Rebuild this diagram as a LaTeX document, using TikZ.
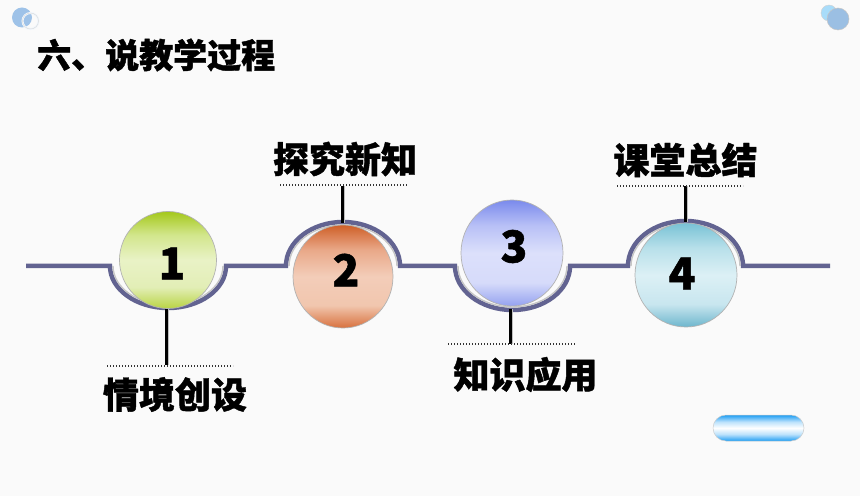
\documentclass[tikz,border=0pt]{standalone}
\usepackage{fontspec}
\setmainfont{Noto Sans CJK SC}[BoldFeatures={FakeBold=1.2}]
\usetikzlibrary{shapes.geometric}
\definecolor{bg}{HTML}{FAFAFA}
\definecolor{slate}{RGB}{98,99,145}
\definecolor{decoA}{HTML}{9EC2E8}
\definecolor{decoB}{HTML}{A8DCFA}
\definecolor{decoC}{HTML}{9BBFE3}
% ball 1 (green)
\definecolor{aTop}{HTML}{A4C81A}\definecolor{aUp}{HTML}{D2E68C}\definecolor{aMid}{HTML}{E9F2C6}\definecolor{aLow}{HTML}{E2EEB6}\definecolor{aBot}{HTML}{B9D444}
% ball 2 (orange)
\definecolor{bTop}{HTML}{CF5F28}\definecolor{bUp}{HTML}{E9A888}\definecolor{bMid}{HTML}{F3CDB9}\definecolor{bLow}{HTML}{F1C6AE}\definecolor{bBot}{HTML}{D8713E}
% ball 3 (blue)
\definecolor{cTop}{HTML}{7A8AEC}\definecolor{cUp}{HTML}{B8C0F6}\definecolor{cMid}{HTML}{DCE0FB}\definecolor{cLow}{HTML}{D6DBFA}\definecolor{cBot}{HTML}{95A2F0}
% ball 4 (teal)
\definecolor{dTop}{HTML}{78C2D5}\definecolor{dUp}{HTML}{B8E0EA}\definecolor{dMid}{HTML}{DCF0F5}\definecolor{dLow}{HTML}{C8E6EF}\definecolor{dBot}{HTML}{6DB6CD}
% pill
\definecolor{pBlue}{HTML}{1E9EF4}
\pgfdeclareverticalshading{shA}{100bp}{color(0bp)=(aBot); color(25bp)=(aBot); color(36bp)=(aLow); color(50bp)=(aMid); color(63bp)=(aUp); color(75bp)=(aTop); color(100bp)=(aTop)}
\pgfdeclareverticalshading{shB}{100bp}{color(0bp)=(bBot); color(25bp)=(bBot); color(36bp)=(bLow); color(50bp)=(bMid); color(63bp)=(bUp); color(75bp)=(bTop); color(100bp)=(bTop)}
\pgfdeclareverticalshading{shC}{100bp}{color(0bp)=(cBot); color(25bp)=(cBot); color(36bp)=(cLow); color(50bp)=(cMid); color(63bp)=(cUp); color(75bp)=(cTop); color(100bp)=(cTop)}
\pgfdeclareverticalshading{shD}{100bp}{color(0bp)=(dBot); color(25bp)=(dBot); color(36bp)=(dLow); color(50bp)=(dMid); color(63bp)=(dUp); color(75bp)=(dTop); color(100bp)=(dTop)}
\pgfdeclareverticalshading{shP}{100bp}{color(0bp)=(pBlue); color(25bp)=(pBlue); color(38bp)=(pBlue!30); color(50bp)=(white); color(62bp)=(pBlue!30); color(75bp)=(pBlue); color(100bp)=(pBlue)}
\tikzset{
  ball/.style={ellipse, inner sep=0pt, draw=gray!60, line width=0.7pt},
  digit/.style={inner sep=0pt, font=\fontsize{44}{44}\selectfont\bfseries},
  lbl/.style={inner sep=0pt, font=\fontsize{36}{36}\selectfont\bfseries},
  ttl/.style={inner sep=0pt, anchor=west, font=\fontsize{34}{34}\selectfont\bfseries},
  track/.style={draw=slate, line width=4.5pt},
  inner/.style={draw=gray!45, line width=1.4pt},
  conn/.style={draw=black, line width=3pt},
  connshadow/.style={draw=gray!50, line width=1.5pt},
  dots/.style={draw=black!80, line width=1.2pt, dash pattern=on 1pt off 2pt},
}
\begin{document}
\begin{tikzpicture}[x=1pt,y=1pt]
\fill[bg] (0,0) rectangle (860,496);
\useasboundingbox (0,0) rectangle (860,496);

% decorations
\node[circle, inner sep=0pt, minimum size=20pt, fill=decoA] (tl1) at (22,478.5) {};
\node[circle, inner sep=0pt, minimum size=16pt, draw=white!85!decoA, line width=2pt] (tl2) at (30.5,475) {};
\node[circle, inner sep=0pt, minimum size=16pt, draw=gray!30, line width=0.4pt] (tl3) at (30.5,475) {};
\node[circle, inner sep=0pt, minimum size=16pt, fill=decoB, draw=gray!35, line width=0.4pt] (tr1) at (829,483) {};
\node[circle, inner sep=0pt, minimum size=22pt, fill=decoC, draw=gray!45, line width=0.5pt] (tr2) at (838,477) {};
\node[inner sep=0pt, minimum width=91pt, minimum height=26pt, rounded corners=13pt, shading=shP, draw=gray!40, line width=0.5pt] (pill) at (758.5,68) {};

% title
\node[ttl] (title) at (37,441) {六、说教学过程};

% track
\path[track] (26,230) -- (110,230) arc[start angle=180, end angle=360, x radius=58, y radius=42]
  -- (286,230) arc[start angle=180, end angle=0, x radius=57, y radius=44]
  -- (455,230) arc[start angle=180, end angle=360, x radius=57.5, y radius=44]
  -- (628,230) arc[start angle=180, end angle=0, x radius=57.5, y radius=45]
  -- (830,230);
\path[inner] (113,230) arc[start angle=180, end angle=360, x radius=55, y radius=39];
\path[inner] (289,230) arc[start angle=180, end angle=0, x radius=54, y radius=41];
\path[inner] (458,230) arc[start angle=180, end angle=360, x radius=54.5, y radius=41];
\path[inner] (631,230) arc[start angle=180, end angle=0, x radius=54.5, y radius=42];

% balls
\node[ball, minimum width=97pt, minimum height=97pt, shading=shA] (b1) at (168,236) {};
\node[ball, minimum width=100pt, minimum height=103pt, shading=shB] (b2) at (343,219.5) {};
\node[ball, minimum width=102pt, minimum height=106pt, shading=shC] (b3) at (512,243) {};
\node[ball, minimum width=102pt, minimum height=104pt, shading=shD] (b4) at (686,221) {};

\node[digit] (n1) at (172,232.5) {1};
\node[digit] (n2) at (346,226) {2};
\node[digit] (n3) at (514,249.5) {3};
\node[digit] (n4) at (682,222.5) {4};

% connectors and dotted rules
\coordinate (c1a) at (166,187); \coordinate (c1b) at (166,131);
\coordinate (c2a) at (342,273); \coordinate (c2b) at (342,310);
\coordinate (c3a) at (510,187); \coordinate (c3b) at (510,152);
\coordinate (c4a) at (685,274); \coordinate (c4b) at (685,310);
\foreach \a/\b in {c1a/c1b,c2a/c2b,c3a/c3b,c4a/c4b}{
  \draw[connshadow] ([xshift=2.5pt]\a) -- ([xshift=2.5pt]\b);
  \draw[conn] (\a) -- (\b);
}
\coordinate (d1l) at (107,130); \coordinate (d1r) at (233,130);
\coordinate (d2l) at (280,311); \coordinate (d2r) at (407,311);
\coordinate (d3l) at (448,152); \coordinate (d3r) at (575,152);
\coordinate (d4l) at (617,310); \coordinate (d4r) at (743,310);
\draw[dots] (d1l) -- (d1r);
\draw[dots] (d2l) -- (d2r);
\draw[dots] (d3l) -- (d3r);
\draw[dots] (d4l) -- (d4r);

% labels
\node[lbl] (l1) at (175,101.5) {情境创设};
\node[lbl] (l2) at (345,337) {探究新知};
\node[lbl] (l3) at (525.5,121.5) {知识应用};
\node[lbl] (l4) at (685.5,336) {课堂总结};
\end{tikzpicture}
\end{document}
